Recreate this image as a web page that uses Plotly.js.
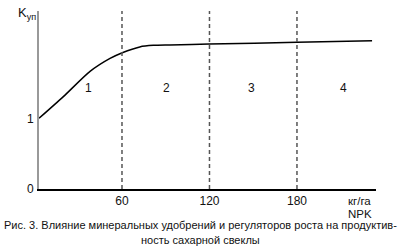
<!DOCTYPE html>
<html>
<head>
<meta charset="utf-8">
<script src="https://cdn.plot.ly/plotly-3.0.1.min.js"></script>
<style>html,body{margin:0;padding:0;background:#fff;}#chart{width:400px;height:246px;}</style>
</head>
<body>
<div id="chart"></div>
<script>
// Data
const doseNPK = [3.1, 19.8, 38.1, 51.8, 60.2, 72.2, 81.5, 92.9, 119.7, 180, 231.5];
const kValues = [1.01, 1.32, 1.68, 1.865, 1.947, 2.03, 2.052, 2.058, 2.071, 2.096, 2.119];
const zoneBounds = [60, 120, 180];
const zoneLabels = ['1', '2', '3', '4'];
const zoneCenters = [36.7, 90.7, 149, 211.8];
const xTicks = [60, 120, 180];
const yTicks = [0, 1];
const captionLines = ['Рис. 3. Влияние минеральных удобрений и регуляторов роста на продуктив-', 'ность сахарной свеклы'];

const font = 'Liberation Sans, Arial, sans-serif';

const shapes = zoneBounds.map(v => ({
  type: 'line', xref: 'x', yref: 'paper', x0: v, x1: v, y0: 0, y1: 1,
  line: {color: '#555', width: 1.5, dash: '4px,3px'}
}));

const annotations = zoneLabels.map((t, i) => ({
  text: t, x: zoneCenters[i], y: 1.44, xref: 'x', yref: 'y',
  showarrow: false, font: {family: font, size: 12, color: '#111'}
}));
annotations.push(
  {text: 'K<sub>уп</sub>', xref: 'paper', yref: 'paper', x: -0.003, y: 0.985,
   xanchor: 'right', yanchor: 'middle', showarrow: false, font: {family: font, size: 13, color: '#111'}},
  {text: 'кг/га', xref: 'paper', yref: 'paper', x: 0.912, y: -0.065,
   xanchor: 'left', yanchor: 'middle', showarrow: false, font: {family: font, size: 11.5, color: '#111'}},
  {text: 'NPK', xref: 'paper', yref: 'paper', x: 0.912, y: -0.14,
   xanchor: 'left', yanchor: 'middle', showarrow: false, font: {family: font, size: 11.5, color: '#111'}}
);
const captionY = [-0.205, -0.288];
captionLines.forEach((t, i) => annotations.push({
  text: t, xref: 'paper', yref: 'paper', x: (200 - 39) / 337, y: captionY[i],
  xanchor: 'center', yanchor: 'middle', showarrow: false,
  font: {family: font, size: 11, color: '#111'}
}));

const trace = {
  x: doseNPK, y: kValues, type: 'scatter', mode: 'lines',
  line: {color: '#000', width: 1.5, shape: 'spline', smoothing: 0.7},
  hoverinfo: 'skip'
};

const layout = {
  width: 400, height: 246,
  margin: {l: 39, r: 24, t: 11, b: 57},
  paper_bgcolor: '#fff', plot_bgcolor: '#fff',
  showlegend: false,
  xaxis: {
    range: [3.09, 234.2], tickvals: xTicks, ticktext: xTicks.map(String),
    ticks: '', showgrid: false, zeroline: false,
    showline: true, linecolor: '#000', linewidth: 1.5,
    tickfont: {family: font, size: 12, color: '#111'}, ticklabelstandoff: 0
  },
  yaxis: {
    range: [0, 2.543], tickvals: yTicks, ticktext: yTicks.map(String),
    ticks: '', showgrid: false, zeroline: false,
    showline: true, linecolor: '#999', linewidth: 2,
    tickfont: {family: font, size: 12, color: '#111'}, ticklabelstandoff: 1
  },
  shapes: shapes,
  annotations: annotations
};

Plotly.newPlot('chart', [trace], layout, {staticPlot: true, displayModeBar: false});
</script>
</body>
</html>
